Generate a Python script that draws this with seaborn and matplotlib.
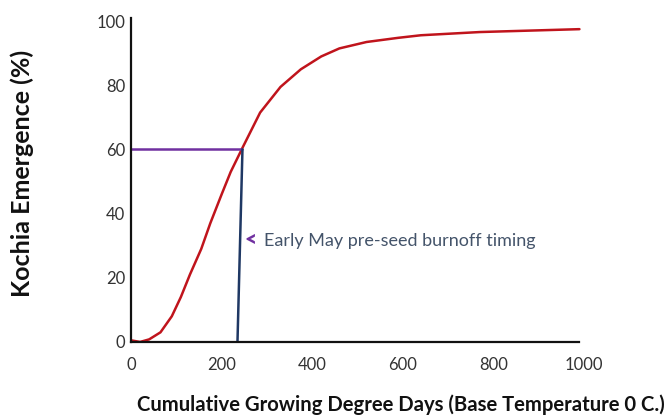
import numpy as np
import pandas as pd
import seaborn as sns
import matplotlib.pyplot as plt

# emergence curve
gdd = [0, 20, 40, 65, 90, 110, 130, 155, 175, 200, 220, 246, 285, 330,
       375, 420, 460, 520, 590, 640, 770, 990]
emergence = [0.5, 0, 0.8, 3, 8, 14, 21, 29, 37, 46, 53, 60.5, 71.5, 79.5,
             85, 89, 91.5, 93.5, 94.8, 95.6, 96.6, 97.5]

# 60 % reference line and burnoff timing line
ref_x = [0, 246]
ref_y = [60, 60]
burn_x = [235, 246]
burn_y = [0, 60]

x_ticks = [0, 200, 400, 600, 800, 1000]
y_ticks = [0, 20, 40, 60, 80, 100]

sns.set_theme(style="white")
plt.rcParams["font.family"] = ["Lato", "DejaVu Sans"]

fig = plt.figure(figsize=(6.72, 4.17), dpi=100)
ax = fig.add_axes([0.195, 0.180, 0.674, 0.777])

df = pd.DataFrame({"gdd": gdd, "emergence": emergence})
sns.lineplot(data=df, x="gdd", y="emergence", color="#c0141c", lw=1.8,
             sort=False, ax=ax)
sns.lineplot(x=ref_x, y=ref_y, color="#7030a0", lw=1.8, ax=ax)
sns.lineplot(x=burn_x, y=burn_y, color="#1f3864", lw=1.8, sort=False, ax=ax)

ax.text(264, 32, "<", color="#7030a0", fontsize=15, fontweight="heavy",
        ha="center", va="center")
ax.text(294, 31.5, "Early May pre-seed burnoff timing", color="#44546a",
        fontsize=13, ha="left", va="center")

ax.set_xlim(0, 1000)
ax.set_ylim(0, 101)
ax.set_xticks(x_ticks)
ax.set_yticks(y_ticks)
ax.tick_params(axis="both", length=0, labelsize=12, colors="#333333")
ax.tick_params(axis="x", pad=11)
ax.tick_params(axis="y", pad=4)

for side in ["top", "right"]:
    ax.spines[side].set_visible(False)
for side in ["left", "bottom"]:
    ax.spines[side].set_color("#111111")
    ax.spines[side].set_linewidth(1.6)
ax.spines["bottom"].set_bounds(0, 988)

ax.set_xlabel("Cumulative Growing Degree Days (Base Temperature 0 C.)",
              fontsize=14.6, fontweight="bold", color="#111111", va="center")
ax.xaxis.set_label_coords(0.596, -0.194)
ax.set_ylabel("Kochia Emergence (%)", fontsize=18, fontweight="bold",
              color="#111111", va="center")
ax.yaxis.set_label_coords(-0.241, 0.52)

fig.savefig("out.png", dpi=100)
